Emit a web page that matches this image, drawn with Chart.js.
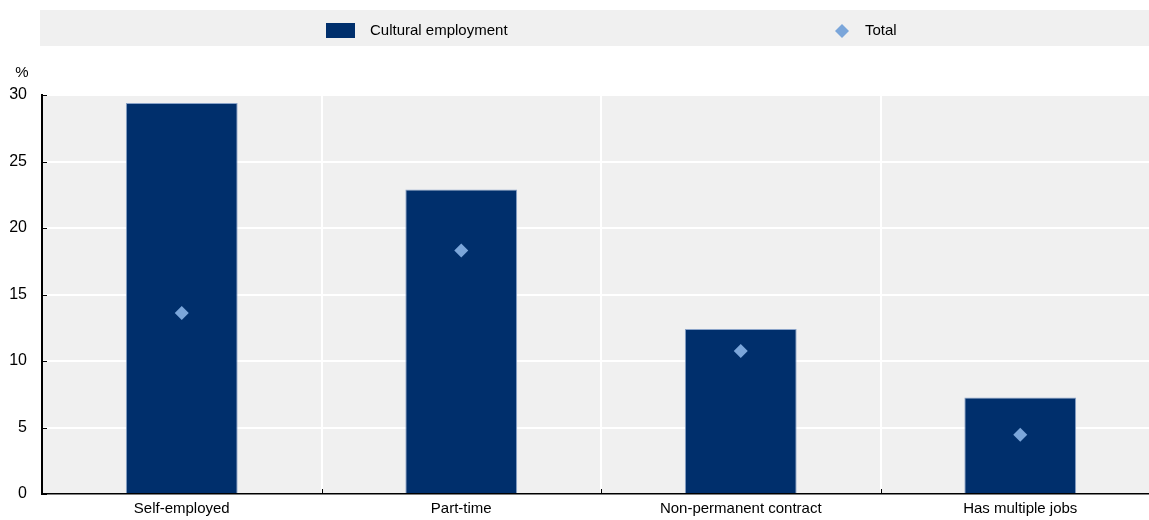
<!DOCTYPE html>
<html>
<head>
<meta charset="utf-8">
<script src="https://cdn.jsdelivr.net/npm/chart.js@4"></script>
<style>
html,body{margin:0;padding:0;background:#fff;overflow:hidden;}
#wrap{width:1149px;height:520px;overflow:hidden;}
</style>
</head>
<body>
<div id="wrap"><canvas id="c" width="1160" height="520"></canvas></div>
<script>
const categories = ["Self-employed", "Part-time", "Non-permanent contract", "Has multiple jobs"];
const culturalEmployment = [29.4, 22.9, 12.4, 7.25];
const total = [13.6, 18.3, 10.75, 4.45];
const yTicks = [0, 5, 10, 15, 20, 25, 30];
const seriesNames = ["Cultural employment", "Total"];
const unitLabel = "%";

const FONT = '"Liberation Sans Narrow", "Arial Narrow", "Liberation Sans", Arial, sans-serif';
const BAR = '#002f6c';
const DIAMOND = '#7ba6da';
const PANEL = '#f0f0f0';

const decor = {
  id: 'decor',
  beforeDraw(chart) {
    const {ctx, chartArea: a} = chart;
    const barDs = chart.data.datasets.find(d => d.type === 'bar');
    const lineDs = chart.data.datasets.find(d => d.type === 'line');
    ctx.save();
    ctx.fillStyle = PANEL;
    ctx.fillRect(a.left, a.top, a.right - a.left, a.bottom - a.top);
    // legend panel
    ctx.fillRect(40, 10, chart.width - 40, 36);
    // legend items
    ctx.fillStyle = BAR;
    ctx.fillRect(326, 23, 29, 15);
    ctx.fillStyle = '#000';
    ctx.font = '15px ' + FONT;
    ctx.textBaseline = 'middle';
    ctx.textAlign = 'left';
    ctx.fillText(barDs.label, 370, 31);
    ctx.fillText(lineDs.label, 865, 31);
    ctx.fillStyle = DIAMOND;
    ctx.beginPath();
    ctx.moveTo(842, 24); ctx.lineTo(849, 31); ctx.lineTo(842, 38); ctx.lineTo(835, 31); ctx.closePath();
    ctx.fill();
    // unit label
    ctx.fillStyle = '#000';
    ctx.font = '15px ' + FONT;
    ctx.textAlign = 'center';
    ctx.fillText(unitLabel, 22, 73);
    ctx.restore();
  },
  afterDraw(chart) {
    const {ctx, chartArea: a, scales} = chart;
    ctx.save();
    ctx.strokeStyle = '#000';
    ctx.lineWidth = 1;
    scales.y.ticks.forEach(t => {
      const y = Math.round(scales.y.getPixelForValue(t.value)) + 0.5;
      ctx.beginPath(); ctx.moveTo(a.left, y); ctx.lineTo(a.left + 5, y); ctx.stroke();
    });
    for (let i = 1; i < categories.length; i++) {
      const x = Math.round((scales.x.getPixelForValue(i - 1) + scales.x.getPixelForValue(i)) / 2) + 0.5;
      ctx.beginPath(); ctx.moveTo(x, a.bottom - 5); ctx.lineTo(x, a.bottom); ctx.stroke();
    }
    ctx.restore();
  }
};

new Chart(document.getElementById('c'), {
  type: 'bar',
  data: {
    labels: categories,
    datasets: [
      {
        type: 'line',
        label: seriesNames[1],
        data: total,
        showLine: false,
        pointStyle: 'rectRot',
        pointRadius: 7,
        pointHoverRadius: 7,
        pointBackgroundColor: DIAMOND,
        pointBorderColor: DIAMOND,
        pointBorderWidth: 0,
        order: 0
      },
      {
        type: 'bar',
        label: seriesNames[0],
        data: culturalEmployment,
        backgroundColor: BAR,
        borderColor: '#8aa3c9',
        borderWidth: {top: 1, left: 1, right: 1, bottom: 0},
        borderSkipped: 'bottom',
        categoryPercentage: 1,
        barPercentage: 0.4,
        order: 1
      }
    ]
  },
  options: {
    responsive: false,
    animation: false,
    layout: {autoPadding: false, padding: {top: 95, left: 0, right: 0, bottom: 0}},
    plugins: {legend: {display: false}, tooltip: {enabled: false}},
    scales: {
      x: {
        offset: true,
        grid: {color: '#ffffff', lineWidth: 2, drawTicks: false, offset: true},
        border: {color: '#000', width: 1.5},
        ticks: {color: '#000', font: {family: FONT, size: 15}, padding: 6, maxRotation: 0, autoSkip: false},
        afterFit(s) { s.height = 26; s.paddingLeft = 0; s.paddingRight = 0; }
      },
      y: {
        min: 0, max: 30,
        grid: {color: '#ffffff', lineWidth: 2, drawTicks: false},
        border: {color: '#000', width: 2},
        afterBuildTicks(s) { s.ticks = yTicks.map(v => ({value: v})); },
        ticks: {color: '#000', font: {family: FONT, size: 16}, padding: 15},
        afterFit(s) { s.width = 42; }
      }
    }
  },
  plugins: [decor]
});
</script>
</body>
</html>
